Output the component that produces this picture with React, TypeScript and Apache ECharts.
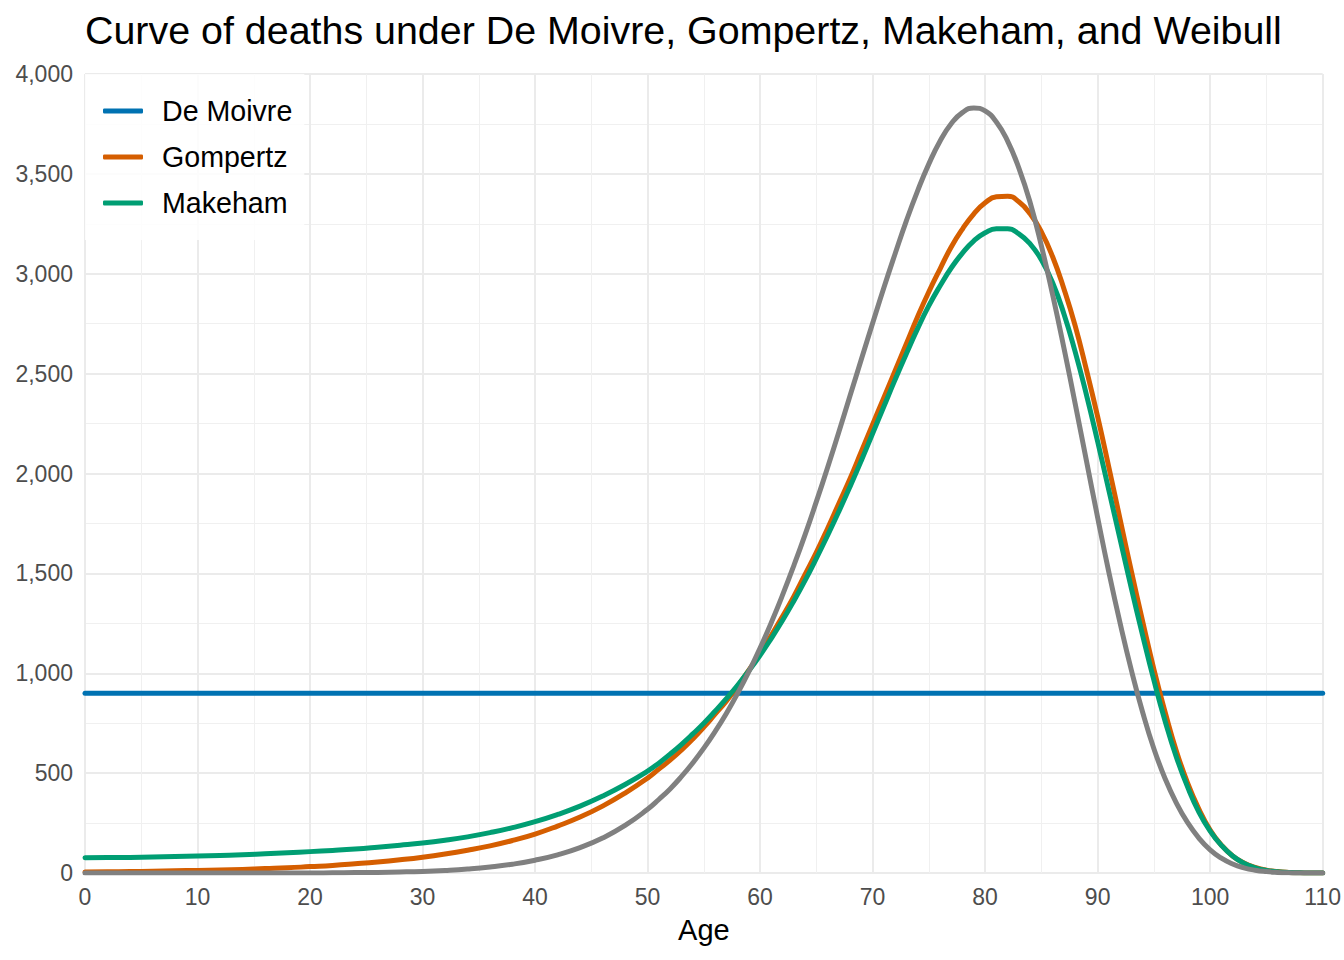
import React, { useEffect, useRef } from "react";
import * as echarts from "echarts";

// Ages (x values) shared by the three mortality curves
const ages: number[] = [
  0, 2, 4, 6, 8, 10, 12, 14, 16, 18, 20, 22, 24, 26, 28, 30, 32, 34, 36, 38, 40, 42, 44, 46, 48, 50,
  51, 52, 53, 54, 55, 56, 57, 58, 59, 60, 61, 62, 63, 64, 65, 66, 67, 68, 69, 70,
  71, 72, 73, 74, 75, 76, 77, 78, 79, 80, 81, 82, 83, 84, 85, 86, 87, 88, 89, 90,
  91, 92, 93, 94, 95, 96, 97, 98, 99, 100, 101, 102, 103, 104, 105, 106, 107, 108, 109, 110,
];

const gompertz: number[] = [
  5, 6, 7, 9, 11, 13, 15, 18, 22, 26, 32, 38, 46, 55, 66, 79, 95, 114, 136, 163, 195, 235, 280, 335, 400, 475,
  520, 565, 615, 670, 730, 795, 860, 935, 1015, 1100, 1190, 1285, 1385, 1495, 1605, 1725, 1850, 1975, 2110, 2245,
  2380, 2515, 2650, 2785, 2910, 3025, 3135, 3225, 3300, 3355, 3385, 3388, 3360, 3300, 3210, 3085, 2925, 2740, 2520, 2285,
  2030, 1770, 1510, 1260, 1020, 805, 610, 450, 320, 215, 140, 85, 50, 28, 14, 7, 3, 1, 0, 0,
];

const makeham: number[] = [
  76, 77, 78, 80, 82, 85, 88, 91, 96, 101, 107, 113, 120, 129, 139, 150, 164, 181, 202, 227, 257, 293, 335, 385, 443, 510,
  550, 595, 643, 695, 750, 810, 873, 940, 1012, 1090, 1175, 1265, 1362, 1465, 1575, 1690, 1810, 1935, 2065, 2200,
  2335, 2470, 2600, 2725, 2840, 2940, 3030, 3105, 3165, 3205, 3225, 3225, 3200, 3150, 3070, 2955, 2800, 2610, 2395, 2160,
  1915, 1670, 1425, 1190, 965, 760, 580, 430, 305, 210, 138, 85, 49, 26, 13, 6, 2, 1, 0, 0,
];

const weibull: number[] = [
  0, 0, 0, 0, 0, 0, 0, 0, 0, 0, 0, 1, 2, 3, 5, 8, 13, 20, 30, 44, 64, 91, 127, 175, 238, 319,
  368, 421, 482, 550, 625, 708, 799, 899, 1008, 1126, 1254, 1392, 1539, 1694, 1859, 2030, 2208, 2390, 2572, 2752,
  2930, 3100, 3265, 3415, 3550, 3665, 3752, 3808, 3830, 3815, 3760, 3664, 3529, 3357, 3140, 2895, 2630, 2350, 2065, 1780,
  1505, 1250, 1015, 805, 622, 472, 350, 252, 175, 116, 74, 45, 26, 14, 7, 3, 1, 0, 0, 0,
];

// De Moivre: uniform curve of deaths
const deMoivreAges: number[] = [0, 110];
const deMoivreValues: number[] = [900, 900];

const seriesNames = ["De Moivre", "Gompertz", "Makeham", "Weibull"];
const legendNames = ["De Moivre", "Gompertz", "Makeham"];
const colors = ["#0072B2", "#D55E00", "#009E73", "#808080"];

const xTicks = { min: 0, max: 110, interval: 10 };
const yTicks = { min: 0, max: 4000, interval: 500 };

const FONT = "'Liberation Sans', Arial, sans-serif";

export default function App() {
  const ref = useRef<HTMLDivElement>(null);

  useEffect(() => {
    document.body.style.margin = "0";
    if (!ref.current) return;
    const chart = echarts.init(ref.current, undefined, { renderer: "svg" });

    const pairs = (xs: number[], ys: number[]) => xs.map((x, i) => [x, ys[i]]);
    const lineStyle = (c: string) => ({ color: c, width: 5, cap: "round", join: "round" });

    const curve = (name: string, data: number[][], c: string, smooth: boolean) => ({
      name,
      type: "line",
      data,
      smooth,
      showSymbol: false,
      symbol: "none",
      color: c,
      lineStyle: lineStyle(c),
      emphasis: { disabled: true },
    });

    chart.setOption({
      animation: false,
      textStyle: { fontFamily: FONT },
      title: {
        text: "Curve of deaths under De Moivre, Gompertz, Makeham, and Weibull",
        left: 85,
        top: 10,
        padding: 0,
        textStyle: { fontSize: 39.4, fontWeight: "normal", color: "#000000", fontFamily: FONT },
      },
      grid: { left: 85, right: 15, top: 74, bottom: 87, containLabel: false },
      legend: {
        data: legendNames,
        orient: "vertical",
        left: 85,
        top: 74,
        padding: [20, 12, 20, 18],
        backgroundColor: "rgba(255,255,255,0.85)",
        icon: "roundRect",
        itemWidth: 40,
        itemHeight: 5,
        itemGap: 12,
        itemStyle: { borderWidth: 0 },
        textStyle: {
          fontSize: 28.6,
          color: "#000000",
          fontFamily: FONT,
          lineHeight: 34,
          padding: [0, 0, 0, 14],
        },
      },
      xAxis: {
        type: "value",
        min: xTicks.min,
        max: xTicks.max,
        interval: xTicks.interval,
        name: "Age",
        nameLocation: "middle",
        nameGap: 42,
        nameTextStyle: { fontSize: 29, color: "#000000", fontFamily: FONT },
        axisLine: { show: false },
        axisTick: { show: false },
        axisLabel: { fontSize: 23, color: "#4D4D4D", margin: 12, fontFamily: FONT },
        splitLine: { show: true, lineStyle: { color: "#EBEBEB", width: 2 } },
        minorTick: { show: false, splitNumber: 2 },
        minorSplitLine: { show: true, lineStyle: { color: "#F0F0F0", width: 1 } },
      },
      yAxis: {
        type: "value",
        min: yTicks.min,
        max: yTicks.max,
        interval: yTicks.interval,
        axisLine: { show: false },
        axisTick: { show: false },
        axisLabel: {
          fontSize: 23,
          color: "#4D4D4D",
          margin: 12,
          fontFamily: FONT,
          formatter: (v: number) => v.toLocaleString("en-US"),
        },
        splitLine: { show: true, lineStyle: { color: "#EBEBEB", width: 2 } },
        minorTick: { show: false, splitNumber: 2 },
        minorSplitLine: { show: true, lineStyle: { color: "#F0F0F0", width: 1 } },
      },
      series: [
        curve(seriesNames[0], pairs(deMoivreAges, deMoivreValues), colors[0], false),
        curve(seriesNames[1], pairs(ages, gompertz), colors[1], true),
        curve(seriesNames[2], pairs(ages, makeham), colors[2], true),
        curve(seriesNames[3], pairs(ages, weibull), colors[3], true),
      ],
    });

    return () => chart.dispose();
  }, []);

  return <div ref={ref} style={{ width: 1344, height: 960 }} />;
}
